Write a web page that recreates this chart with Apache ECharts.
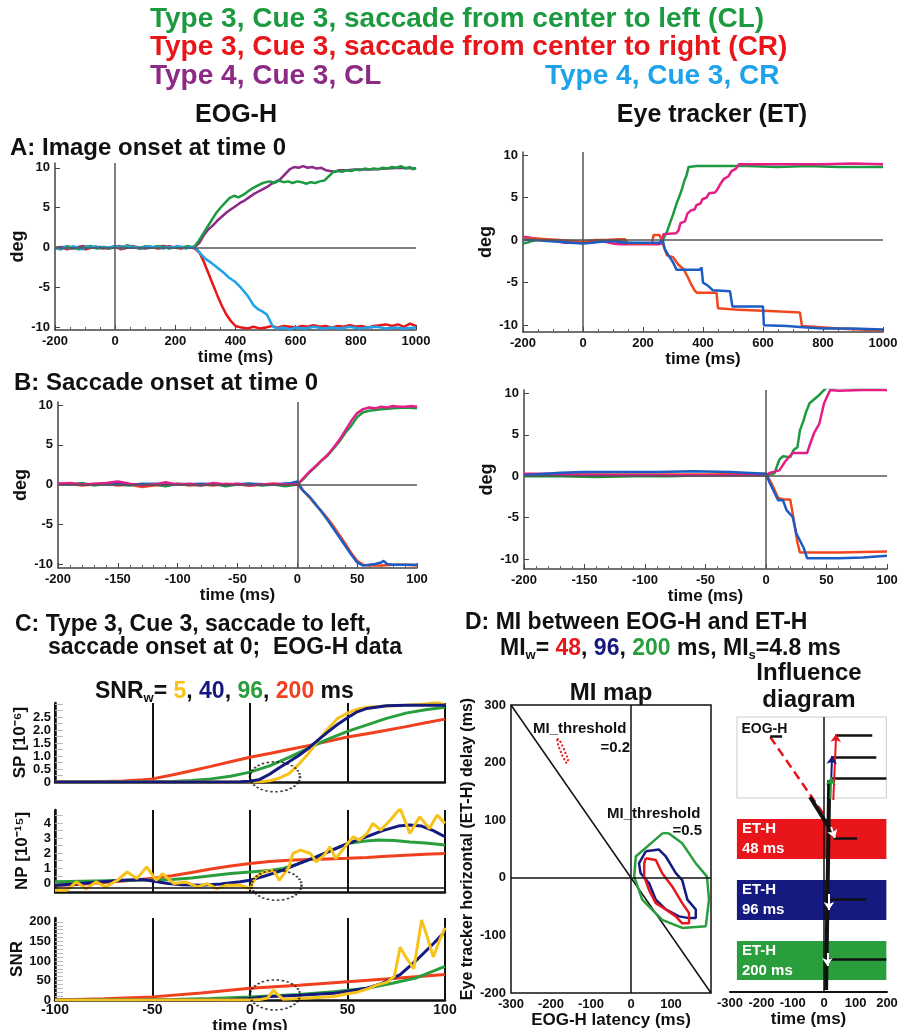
<!DOCTYPE html>
<html lang="en">
<head>
<meta charset="UTF-8">
<title>EOG-H vs eye tracker</title>
<script src="https://cdn.jsdelivr.net/npm/echarts@6/dist/echarts.min.js"></script>
<style>
  body { margin: 0; background: #fff; }
  #main { width: 909px; height: 1030px; }
</style>
</head>
<body>
<div id="main"></div>
<script>
// ---- A: image onset at time 0, EOG-H (deg) ----
var eogImgGreen = [[-200,0.1],[-180,-0.2],[-160,0.2],[-140,0.0],[-120,-0.2],[-100,0.1],[-80,0.2],[-60,-0.1],[-40,0.1],[-20,-0.1],[0,0.2],[20,0.0],[40,0.3],[60,0.1],[80,-0.1],[100,0.2],[120,0.0],[140,0.2],[160,0.1],[180,-0.1],[200,0.1],[220,0.0],[240,0.2],[255,0.1],[265,0.2],[275,0.7],[290,1.6],[305,2.5],[320,3.4],[335,4.3],[350,5.0],[365,5.6],[380,6.2],[395,6.5],[410,6.3],[425,6.6],[440,7.0],[455,7.4],[470,7.7],[485,8.0],[500,8.2],[515,8.3],[530,8.1],[545,8.4],[560,8.2],[575,8.3],[590,8.1],[605,8.3],[620,8.2],[635,8.0],[650,8.2],[665,8.1],[680,8.3],[695,8.4],[712,9.0],[725,9.5],[740,9.6],[755,9.5],[770,9.7],[785,9.6],[800,9.8],[815,9.7],[830,9.9],[845,9.8],[860,9.9],[875,9.8],[890,10.0],[905,9.9],[920,10.1],[935,10.0],[950,10.2],[965,9.9],[980,10.1],[990,9.8],[1000,10.0]];
var eogImgPurple = [[-200,0.0],[-170,0.1],[-140,-0.1],[-110,0.2],[-80,0.0],[-50,0.1],[-20,-0.1],[10,0.2],[40,0.0],[70,0.1],[100,-0.1],[130,0.1],[160,0.2],[190,0.0],[220,0.1],[250,0.0],[265,0.1],[280,0.6],[295,1.6],[310,2.3],[325,2.8],[340,3.4],[355,3.9],[370,4.4],[385,4.8],[400,5.2],[415,5.6],[430,5.9],[445,6.3],[460,6.7],[475,7.0],[490,7.3],[505,7.6],[520,8.0],[535,8.3],[550,8.6],[565,9.2],[580,9.8],[595,10.1],[610,10.0],[625,10.2],[640,10.0],[655,10.1],[670,9.9],[685,10.0],[700,9.7],[715,9.6],[730,9.5],[745,9.7],[770,9.7],[800,9.8],[850,9.8],[900,9.9],[950,10.0],[1000,9.9]];
var eogImgRed = [[-200,-0.1],[-180,0.1],[-160,-0.2],[-140,0.0],[-120,0.1],[-100,-0.2],[-80,0.0],[-60,0.1],[-40,-0.1],[-20,0.0],[0,0.1],[20,-0.2],[40,0.0],[60,0.2],[80,-0.1],[100,0.0],[120,0.1],[140,-0.1],[160,0.0],[180,0.2],[200,0.0],[220,-0.1],[240,0.1],[255,0.0],[265,-0.1],[280,-0.6],[295,-1.8],[310,-3.2],[325,-4.6],[340,-6.0],[355,-7.3],[370,-8.4],[385,-9.2],[400,-9.8],[420,-10.0],[440,-10.1],[460,-9.9],[480,-10.1],[500,-10.0],[520,-9.8],[540,-10.0],[560,-9.8],[580,-9.9],[600,-10.0],[620,-9.8],[640,-9.9],[660,-9.7],[680,-9.9],[700,-9.8],[720,-10.0],[740,-9.8],[760,-9.9],[780,-9.7],[800,-9.9],[820,-9.8],[840,-10.0],[860,-9.8],[880,-9.7],[900,-9.6],[920,-9.8],[940,-9.6],[960,-9.9],[980,-9.5],[1000,-9.8]];
var eogImgCyan = [[-200,0.0],[-185,-0.2],[-170,0.1],[-155,-0.1],[-140,0.2],[-125,0.0],[-110,-0.2],[-95,0.1],[-80,0.0],[-65,0.2],[-50,-0.1],[-35,0.1],[-20,0.0],[-5,0.2],[10,0.1],[25,-0.1],[40,0.2],[55,0.0],[70,0.1],[85,-0.1],[100,0.1],[115,0.2],[130,0.0],[145,0.1],[160,-0.1],[175,0.1],[190,0.0],[205,0.2],[220,0.1],[235,-0.1],[250,0.1],[262,0.0],[272,-0.2],[285,-0.8],[300,-1.4],[320,-1.9],[340,-2.5],[360,-3.1],[380,-3.8],[400,-4.3],[420,-5.1],[440,-6.0],[460,-7.2],[475,-7.7],[490,-8.0],[505,-8.4],[515,-9.2],[525,-9.9],[540,-10.1],[560,-10.0],[580,-10.2],[600,-10.0],[630,-10.1],[660,-9.9],[690,-10.1],[720,-10.0],[750,-10.1],[780,-9.9],[810,-10.1],[840,-10.0],[870,-9.9],[900,-10.1],[930,-10.0],[960,-10.1],[1000,-10.0]];

// ---- A: image onset at time 0, eye tracker (deg) ----
var etImgGreen = [[-200,-0.4],[-185,-0.3],[-170,-0.1],[-150,0.0],[-120,0.0],[-90,-0.1],[-60,-0.2],[-30,-0.2],[0,-0.3],[30,-0.2],[60,-0.1],[90,0.0],[120,-0.1],[150,-0.3],[180,-0.4],[210,-0.4],[240,-0.4],[262,-0.3],[270,0.3],[280,1.0],[290,2.0],[300,3.0],[313,4.4],[322,5.2],[330,6.0],[338,7.0],[345,7.6],[352,8.6],[380,8.7],[450,8.7],[550,8.7],[650,8.6],[750,8.7],[850,8.6],[950,8.6],[1000,8.6]];
var etImgPink = [[-200,0.4],[-180,0.3],[-160,0.2],[-140,0.1],[-120,0.0],[-100,-0.1],[-80,-0.2],[-60,-0.3],[-40,-0.3],[-20,-0.3],[0,-0.3],[25,-0.2],[50,-0.2],[75,-0.2],[100,-0.4],[125,-0.5],[150,-0.5],[200,-0.5],[250,-0.5],[262,-0.4],[268,0.7],[310,0.8],[318,1.1],[325,2.0],[340,2.2],[348,3.1],[360,3.5],[372,3.6],[378,4.1],[392,4.3],[398,4.8],[412,5.0],[420,5.5],[440,5.6],[447,5.9],[458,6.6],[470,7.2],[485,7.5],[495,8.1],[510,8.4],[520,8.9],[600,8.9],[700,8.9],[800,8.9],[900,9.0],[1000,8.9]];
var etImgRed = [[-200,0.2],[-160,0.2],[-120,0.1],[-80,0.0],[-40,-0.1],[0,-0.2],[40,0.0],[80,0.0],[120,0.1],[140,0.1],[148,-0.4],[200,-0.4],[230,-0.4],[235,0.6],[255,0.6],[262,0.0],[272,-1.0],[280,-1.8],[300,-2.0],[318,-2.9],[335,-3.4],[350,-4.4],[362,-5.3],[372,-5.9],[380,-6.2],[445,-6.2],[450,-8.0],[520,-8.2],[600,-8.3],[660,-8.4],[723,-8.5],[730,-10.1],[780,-10.2],[850,-10.4],[920,-10.5],[1000,-10.6]];
var etImgBlue = [[-200,0.0],[-160,0.0],[-120,-0.1],[-80,-0.2],[-40,-0.3],[0,-0.4],[30,-0.3],[60,-0.2],[100,-0.1],[140,-0.3],[180,-0.3],[220,-0.3],[255,-0.3],[266,0.0],[272,-1.0],[285,-1.8],[300,-2.6],[312,-3.5],[390,-3.5],[395,-3.2],[400,-5.0],[418,-5.4],[433,-5.9],[490,-6.0],[498,-7.8],[600,-7.8],[603,-10.0],[680,-10.1],[723,-10.2],[760,-10.3],[800,-10.4],[900,-10.4],[1000,-10.5]];

// ---- B: saccade onset at time 0, EOG-H (deg) ----
var eogSacGreen = [[-200,0.1],[-190,0.0],[-180,0.2],[-170,-0.1],[-160,0.1],[-150,0.0],[-140,-0.1],[-130,0.1],[-120,0.0],[-110,-0.2],[-100,0.1],[-90,0.0],[-80,-0.1],[-70,0.1],[-60,-0.2],[-50,0.0],[-40,0.1],[-30,-0.1],[-20,0.0],[-10,-0.2],[0,0.0],[5,0.7],[10,1.5],[15,2.2],[20,3.0],[25,3.6],[30,4.5],[35,5.4],[40,6.5],[45,7.4],[50,8.5],[55,9.1],[60,9.3],[65,9.4],[70,9.5],[80,9.6],[90,9.7],[100,9.6]];
var eogSacRed = [[-200,0.0],[-190,0.1],[-180,-0.1],[-170,0.0],[-160,0.1],[-150,-0.1],[-140,0.0],[-130,-0.3],[-120,-0.1],[-110,0.0],[-100,0.1],[-90,-0.1],[-80,0.0],[-70,-0.1],[-60,0.1],[-50,0.0],[-40,-0.1],[-30,0.0],[-20,0.1],[-10,0.0],[0,0.0],[5,-0.8],[10,-1.6],[15,-2.5],[20,-3.3],[25,-4.2],[30,-5.2],[35,-6.3],[40,-7.4],[45,-8.6],[50,-9.6],[55,-10.1],[60,-10.2],[70,-10.2],[80,-10.1],[90,-10.1],[100,-10.2]];
var eogSacBlue = [[-200,0.1],[-180,0.0],[-160,0.1],[-140,0.0],[-120,0.1],[-100,0.0],[-80,0.1],[-60,0.0],[-40,0.1],[-20,0.0],[-5,0.2],[0,0.4],[5,-0.8],[10,-1.5],[15,-2.4],[20,-3.4],[25,-4.4],[30,-5.5],[35,-6.6],[40,-7.7],[45,-8.8],[50,-9.8],[55,-10.2],[60,-10.1],[65,-10.0],[70,-9.8],[72,-9.6],[75,-10.0],[80,-10.1],[90,-10.1],[100,-10.1]];
var eogSacPink = [[-200,0.1],[-190,0.2],[-180,0.0],[-170,0.1],[-160,0.2],[-150,0.4],[-140,0.1],[-130,-0.1],[-120,0.0],[-110,0.3],[-100,0.0],[-90,0.1],[-80,-0.1],[-70,0.2],[-60,0.0],[-50,0.1],[-40,-0.1],[-30,0.0],[-20,0.1],[-10,0.0],[0,0.0],[5,0.8],[10,1.6],[15,2.3],[20,3.0],[25,3.7],[30,4.6],[35,5.6],[40,6.8],[45,8.0],[50,9.0],[55,9.5],[60,9.7],[65,9.6],[70,9.8],[75,9.7],[80,9.9],[85,9.8],[90,9.8],[95,9.9],[100,9.8]];

// ---- B: saccade onset at time 0, eye tracker (deg) ----
var etSacGreen = [[-200,0.0],[-170,0.0],[-140,-0.1],[-110,0.0],[-80,0.0],[-50,0.1],[-20,0.1],[0,0.1],[7,0.35],[11,2.0],[14,2.4],[20,2.3],[23,3.2],[26,3.5],[28,5.5],[31,6.7],[33,7.7],[36,8.8],[44,9.8],[50,10.7],[70,10.7],[85,10.6],[100,10.4]];
var etSacPink = [[-200,0.3],[-180,0.3],[-160,0.2],[-130,0.1],[-100,0.1],[-70,0.1],[-40,0.1],[-10,0.1],[0,0.1],[3,0.4],[11,0.7],[16,1.8],[22,2.8],[34,2.8],[36,3.7],[40,5.3],[44,6.3],[48,8.8],[53,10.4],[60,10.3],[80,10.4],[100,10.4]];
var etSacRed = [[-200,0.2],[-150,0.2],[-100,0.2],[-50,0.2],[0,0.3],[5,-1.0],[10,-2.6],[14,-2.8],[20,-2.8],[23,-5.3],[26,-8.0],[28,-9.2],[60,-9.2],[100,-9.1]];
var etSacBlue = [[-200,0.1],[-170,0.4],[-150,0.5],[-120,0.5],[-90,0.5],[-60,0.6],[-30,0.5],[0,0.3],[3,-0.8],[10,-2.9],[14,-2.9],[17,-4.1],[22,-4.9],[25,-6.9],[31,-8.6],[34,-9.9],[60,-9.9],[80,-9.8],[100,-9.6]];

// ---- C: SP [1e-6], NP [1e-15], SNR for window 5, 40, 96, 200 ms ----
var sp5 = [[-100,0],[-50,0],[-20,0],[0,0],[5,0.01],[10,0.05],[15,0.15],[20,0.32],[25,0.68],[30,1.1],[35,1.6],[40,2.05],[45,2.45],[50,2.65],[55,2.8],[60,2.88],[70,2.92],[80,2.95],[90,3.0],[96,3.08],[100,2.96]];
var sp40 = [[-100,0],[-50,0],[-20,0],[-5,0.01],[0,0.03],[5,0.1],[10,0.3],[15,0.55],[20,0.78],[25,1.02],[30,1.3],[35,1.62],[40,1.93],[45,2.22],[50,2.47],[55,2.7],[60,2.83],[70,2.93],[80,2.95],[100,2.95]];
var sp96 = [[-100,0],[-60,0],[-40,0.02],[-30,0.06],[-20,0.12],[-10,0.22],[0,0.38],[10,0.62],[20,0.95],[30,1.3],[40,1.65],[50,1.95],[60,2.2],[70,2.45],[80,2.65],[90,2.78],[100,2.88]];
var sp200 = [[-100,0],[-80,0.01],[-65,0.04],[-55,0.09],[-50,0.12],[-40,0.27],[-30,0.43],[-20,0.6],[-10,0.78],[0,0.95],[10,1.1],[20,1.25],[30,1.4],[40,1.57],[50,1.73],[60,1.86],[70,1.99],[80,2.13],[90,2.28],[100,2.42]];

var np5 = [[-100,-0.47],[-94,-0.47],[-89,0.09],[-84,-0.36],[-79,0.09],[-74,-0.24],[-68,0.2],[-63,0.75],[-58,0.31],[-53,1.09],[-48,0.2],[-45,0.64],[-39,-0.02],[-33,0.09],[-27,-0.24],[-22,-0.02],[-17,-0.36],[-12,-0.13],[-5,-0.13],[0,-0.36],[3,0.42],[7,0.75],[12,0.87],[15,0.2],[20,1.09],[22,1.98],[26,2.2],[31,1.98],[34,1.42],[38,1.87],[41,2.42],[44,1.64],[50,2.64],[53,3.09],[56,2.87],[60,3.31],[63,3.98],[67,3.53],[72,4.2],[77,4.98],[82,3.31],[87,4.42],[92,3.64],[96,4.53],[100,3.98]];
var np40 = [[-100,-0.13],[-90,-0.05],[-77,0.09],[-65,0.2],[-55,0.25],[-50,0.15],[-42,-0.02],[-35,-0.1],[-25,-0.13],[-15,-0.05],[-5,0.1],[0,0.2],[8,0.5],[17,0.87],[25,1.3],[34,1.76],[42,2.2],[50,2.64],[60,3.1],[68,3.5],[76,3.8],[82,3.87],[88,3.8],[94,3.5],[100,3.09]];
var np96 = [[-100,0.1],[-80,0.15],[-60,0.2],[-50,0.22],[-40,0.25],[-30,0.35],[-20,0.5],[-10,0.65],[0,0.75],[10,0.85],[17,0.98],[25,1.3],[34,1.76],[42,2.2],[50,2.64],[58,2.8],[66,2.88],[74,2.85],[82,2.75],[90,2.68],[100,2.55]];
var np200 = [[-100,-0.15],[-90,-0.1],[-80,0],[-70,0.1],[-60,0.2],[-50,0.33],[-40,0.5],[-30,0.72],[-20,0.95],[-10,1.15],[0,1.32],[10,1.45],[20,1.53],[30,1.58],[40,1.62],[50,1.66],[60,1.72],[70,1.79],[80,1.86],[90,1.93],[100,1.98]];

var snr5 = [[-100,0],[-50,0],[0,0],[5,1],[9,5],[12,25],[14,15],[17,2],[22,3],[30,5],[43,9],[50,16],[55,20],[60,28],[65,38],[70,45],[74,60],[77,135],[80,109],[84,80],[88,205],[91,160],[94,110],[97,150],[100,185]];
var snr40 = [[-100,0],[-20,0],[-10,1],[0,4],[8,8],[25,12],[43,17],[60,30],[68,43],[77,65],[85,100],[94,144],[100,175]];
var snr96 = [[-100,0],[-60,0],[-40,1],[-20,4],[0,8],[25,14],[43,21],[60,30],[73,43],[85,56],[100,86]];
var snr200 = [[-100,0],[-75,3],[-50,8],[-25,18],[0,30],[25,38],[50,47],[75,56],[100,65]];

// dotted ellipses marking the saccade onset [time, value]
var spMark = [[12.8, 0.2]];
var npMark = [[13.6, -0.13]];
var snrMark = [[12.8, 13]];

// ---- D: MI map contours, [EOG-H latency, ET-H delay] in ms ----
var miW48 = [[37,34],[62,31],[78,8],[103,-15],[128,-44],[145,-61],[145,-79],[128,-79],[112,-67],[87,-55],[62,-44],[45,-21],[33,2],[33,25],[37,34]];
var miW96 = [[37,46],[70,49],[87,37],[112,8],[128,-4],[141,-38],[162,-55],[162,-70],[145,-70],[120,-67],[87,-55],[62,-38],[45,-9],[24,8],[20,25],[37,46]];
var miW200 = [[80,78],[12,37],[8,2],[28,-38],[78,-73],[128,-87],[187,-84],[195,-38],[190,2],[162,25],[128,60],[95,77],[80,78]];
var miW48Low = [[-185,242],[-178,238],[-168,224],[-157,205],[-161,199],[-171,211],[-182,230],[-185,242]];
var miDiag = [[-300,300],[200,-200]];

// ---- D: influence diagram (time ms, row position from top) ----
var infSignals = [[[38,18],[153,18]],[[25,40],[166,40]],[[25,61],[198,61]],[[29,121],[105,121]],[[19,182],[134,182]],[[16,242],[198,242]],[[-172,19],[-134,19]]];
var infRise = [[[29,83],[38,17]],[[22,66],[25,39]],[[20,82],[22,60]]];
var infEog = [[-172,20],[0,98]];
var infBar = [[[16,63],[6,273]],[[-45,80],[30,118]]];
var infHeads = [[[22,110],[34,121]],[[15,177],[15,193]],[[10,236],[10,249]]];
var infFrame = [[-278,0],[198,81]];
var infRows = [[102,142],[163,203],[224,263]];
var infRowText = ['ET-H\n48 ms','ET-H\n96 ms','ET-H\n200 ms'];

// tick labels
var degTicks = [-10,-5,0,5,10];
var spTicks = [0,0.5,1.0,1.5,2.0,2.5];
var npTicks = [0,1,2,3,4];
var snrTicks = [0,50,100,150,200];
var miXTicks = [-300,-200,-100,0,100];
var miYTicks = [-200,-100,0,100,200,300];
var infXTicks = [-300,-200,-100,0,100,200];

var FONT = '"Liberation Sans", Arial, sans-serif';
var cGreen = '#1c9a40', cRed = '#e8161a', cPurple = '#8c2a85', cCyan = '#1ea2ea';
var cPink = '#e41e86', cOrange = '#f2461e', cBlue = '#1c5cc4';
var cYellow = '#f7c31a', cNavy = '#141a80', cGreen2 = '#2a9e3c', cRed2 = '#f0401e';

function plain(v) { return String(v); }
function lst(n, s) { var a = []; for (var v = 0; v <= n; v += s) a.push(+v.toFixed(2)); return a; }

function ttl(text, left, top, size, color, align, rich) {
    var t = { text: text, left: left, top: top, padding: 0, itemGap: 0,
        textStyle: { fontFamily: FONT, fontWeight: 'bold', fontSize: size, color: color || '#111' } };
    if (align) t.textAlign = align;
    if (rich) t.textStyle.rich = rich;
    return t;
}

function xAx(i, min, max, interval, opts) {
    var a = {
        type: 'value', gridIndex: i, min: min, max: max, interval: interval,
        axisLine: { show: true, onZero: false, lineStyle: { color: '#444', width: 1.5 } },
        axisTick: { show: true, inside: true, length: 5, lineStyle: { color: '#444' } },
        minorTick: { show: true, splitNumber: 4, length: 3, lineStyle: { color: '#666' } },
        splitLine: { show: false },
        axisLabel: { fontFamily: FONT, fontWeight: 'bold', fontSize: 13, color: '#111', margin: 5, formatter: plain },
        name: 'time (ms)', nameLocation: 'middle', nameGap: 16,
        nameTextStyle: { fontFamily: FONT, fontWeight: 'bold', fontSize: 17, color: '#111' }
    };
    return Object.assign(a, opts || {});
}

function yAx(i, min, max, ticks, name, opts) {
    var a = {
        type: 'value', gridIndex: i, min: min, max: max,
        axisLine: { show: true, onZero: false, lineStyle: { color: '#444', width: 1.5 } },
        axisTick: { show: true, inside: true, length: 5, customValues: ticks, lineStyle: { color: '#444' } },
        splitLine: { show: false },
        axisLabel: { customValues: ticks, fontFamily: FONT, fontWeight: 'bold', fontSize: 13, color: '#111', margin: 5, formatter: plain },
        name: name, nameLocation: 'middle', nameRotate: 90, nameGap: 26,
        nameTextStyle: { fontFamily: FONT, fontWeight: 'bold', fontSize: 18, color: '#111' }
    };
    return Object.assign(a, opts || {});
}

function ln(i, data, color, width, extra) {
    var s = { type: 'line', xAxisIndex: i, yAxisIndex: i, data: data, showSymbol: false, symbol: 'none',
        lineStyle: { color: color, width: width || 2.5 }, itemStyle: { color: color }, silent: true, animation: false };
    return Object.assign(s, extra || {});
}

function refLines(xs, ys, color, width) {
    var d = [];
    xs.forEach(function (v) { d.push({ xAxis: v }); });
    ys.forEach(function (v) { d.push({ yAxis: v }); });
    return { silent: true, symbol: 'none', label: { show: false },
        lineStyle: { color: color, width: width, type: 'solid' }, data: d, animation: false };
}

function mark(i, data) {
    return { type: 'scatter', xAxisIndex: i, yAxisIndex: i, data: data, symbol: 'circle', symbolSize: [50, 30],
        itemStyle: { color: 'rgba(0,0,0,0)', borderColor: '#111', borderWidth: 2, borderType: 'dotted' },
        silent: true, z: 5, animation: false };
}

var grids = [
    { left: 55, top: 163, width: 361, height: 167 },
    { left: 523, top: 152, width: 360, height: 180 },
    { left: 58, top: 402, width: 359, height: 166 },
    { left: 524, top: 390, width: 363, height: 179 },
    { left: 55, top: 703, width: 390, height: 79 },
    { left: 55, top: 810, width: 390, height: 82 },
    { left: 55, top: 918, width: 390, height: 82 },
    { left: 511, top: 705, width: 200, height: 288, show: true, borderColor: '#111', borderWidth: 1.5 },
    { left: 730, top: 717, width: 157, height: 275 }
].map(function (g) { g.outerBoundsMode = 'none'; return g; });

var cNone = { show: false };
function cX(i, labels) {
    return xAx(i, -100, 100, 50, {
        axisLine: { show: true, onZero: false, lineStyle: { color: '#111', width: 2.5 } },
        axisTick: cNone, minorTick: cNone,
        splitLine: { show: true, lineStyle: { color: '#111', width: 2 } },
        axisLabel: labels ? { fontFamily: FONT, fontWeight: 'bold', fontSize: 14, color: '#111', margin: 3, formatter: plain } : cNone,
        name: labels ? 'time (ms)' : '', nameGap: 13
    });
}
function cY(i, min, max, ticks, minor, name, fmt) {
    return yAx(i, min, max, ticks, name, {
        axisLine: { show: true, onZero: false, lineStyle: { color: '#111', width: 2.5 } },
        axisTick: { show: true, inside: true, length: 8, customValues: minor, lineStyle: { color: '#bbb', width: 1 } },
        axisLabel: { customValues: ticks, fontFamily: FONT, fontWeight: 'bold', fontSize: 13, color: '#111', margin: 4,
            formatter: fmt || plain },
        nameGap: 24, nameTextStyle: { fontFamily: FONT, fontWeight: 'bold', fontSize: 17, color: '#111' }
    });
}

var xAxes = [
    xAx(0, -200, 1000, 200),
    xAx(1, -200, 1000, 200),
    xAx(2, -200, 100, 50, { minorTick: { show: true, splitNumber: 5, length: 3, lineStyle: { color: '#666' } } }),
    xAx(3, -200, 100, 50, { minorTick: { show: true, splitNumber: 5, length: 3, lineStyle: { color: '#666' } } }),
    cX(4, false), cX(5, false), cX(6, true),
    xAx(7, -300, 200, 100, {
        axisLine: { show: false }, axisTick: cNone, minorTick: cNone,
        axisLabel: { customValues: miXTicks, fontFamily: FONT, fontWeight: 'bold', fontSize: 13, color: '#111', margin: 5, formatter: plain },
        name: 'EOG-H latency (ms)', nameGap: 18
    }),
    xAx(8, -300, 200, 100, {
        axisLine: { show: true, onZero: false, lineStyle: { color: '#111', width: 2 } },
        axisTick: cNone, minorTick: cNone,
        axisLabel: { customValues: infXTicks, fontFamily: FONT, fontWeight: 'bold', fontSize: 13, color: '#111', margin: 5, formatter: plain },
        nameGap: 18
    })
];

var yAxes = [
    yAx(0, -10.3, 10.6, degTicks, 'deg'),
    yAx(1, -10.8, 10.35, degTicks, 'deg'),
    yAx(2, -10.5, 10.4, degTicks, 'deg'),
    yAx(3, -11.2, 10.4, degTicks, 'deg'),
    cY(4, 0, 3.04, spTicks, lst(3, 0.25), 'SP [10\u207B\u2076]', function (v) { return v === 0 ? '0' : v.toFixed(1); }),
    cY(5, -0.58, 4.87, npTicks, lst(4.5, 0.5), 'NP [10\u207B\u00B9\u2075]'),
    cY(6, 0, 210, snrTicks, lst(200, 10), 'SNR'),
    yAx(7, -200, 300, miYTicks, 'Eye tracker horizontal (ET-H) delay (ms)', {
        axisLine: { show: false }, axisTick: cNone,
        nameGap: 32, nameTextStyle: { fontFamily: FONT, fontWeight: 'bold', fontSize: 16, color: '#111' }
    }),
    { type: 'value', gridIndex: 8, min: 0, max: 275, inverse: true, show: false }
];

var series = [
    // A left
    ln(0, eogImgRed, cRed, 2.5, { markLine: refLines([0], [0], '#555', 1.5) }),
    ln(0, eogImgPurple, cPurple),
    ln(0, eogImgGreen, cGreen),
    ln(0, eogImgCyan, cCyan),
    // A right
    ln(1, etImgGreen, cGreen, 2.5, { markLine: refLines([0], [0], '#555', 1.5) }),
    ln(1, etImgPink, cPink),
    ln(1, etImgRed, cOrange),
    ln(1, etImgBlue, cBlue),
    // B left
    ln(2, eogSacGreen, cGreen, 2.5, { markLine: refLines([0], [0], '#555', 1.5) }),
    ln(2, eogSacRed, cOrange),
    ln(2, eogSacBlue, cBlue),
    ln(2, eogSacPink, cPink),
    // B right
    ln(3, etSacRed, cOrange, 2.5, { markLine: refLines([0], [0], '#555', 1.5) }),
    ln(3, etSacGreen, cGreen),
    ln(3, etSacPink, cPink),
    ln(3, etSacBlue, cBlue),
    // C: SP
    ln(4, sp200, cRed2, 3), ln(4, sp96, cGreen2, 3), ln(4, sp5, cYellow, 3), ln(4, sp40, cNavy, 3), mark(4, spMark),
    // C: NP
    ln(5, np200, cRed2, 3, { markLine: refLines([], [-0.3], '#111', 1.5) }), ln(5, np96, cGreen2, 3), ln(5, np40, cNavy, 3), ln(5, np5, cYellow, 3), mark(5, npMark),
    // C: SNR
    ln(6, snr200, cRed2, 3), ln(6, snr96, cGreen2, 3), ln(6, snr40, cNavy, 3), ln(6, snr5, cYellow, 3), mark(6, snrMark),
    // D: MI map
    ln(7, miDiag, '#111', 1.5, { markLine: refLines([0], [0], '#111', 1.5) }),
    ln(7, miW200, cGreen2, 2.5), ln(7, miW96, cNavy, 2.5), ln(7, miW48, cRed, 2.5),
    ln(7, miW48Low, cRed, 2, { lineStyle: { color: cRed, width: 2, type: 'dotted' } })
];

// influence diagram
var infColors = [cRed, cNavy, cGreen2];
series.push(ln(8, [], '#111', 1, {
    markArea: {
        silent: true,
        data: [[{ coord: infFrame[0], itemStyle: { color: '#fff', borderColor: '#ccc', borderWidth: 1 },
                  label: { show: true, position: 'insideTopLeft', formatter: 'EOG-H', color: '#111',
                           fontFamily: FONT, fontWeight: 'bold', fontSize: 14, offset: [0, 1] } },
                { coord: infFrame[1] }]].concat(infRows.map(function (r, k) {
            return [{ coord: [-278, r[0]], itemStyle: { color: infColors[k] },
                      label: { show: true, position: 'insideLeft', formatter: infRowText[k], color: '#fff',
                               fontFamily: FONT, fontWeight: 'bold', fontSize: 15, lineHeight: 20 } },
                    { coord: [198, r[1]] }];
        }))
    },
    markLine: refLines([0], [], '#111', 1.5)
}));
function lines(data, color, width, extra) {
    var s = { type: 'lines', coordinateSystem: 'cartesian2d', xAxisIndex: 8, yAxisIndex: 8, silent: true,
        data: data.map(function (c) { return { coords: c }; }), symbol: 'none',
        lineStyle: { color: color, width: width, opacity: 1 }, animation: false, z: 4 };
    return Object.assign(s, extra || {});
}
series.push(lines([infEog], cRed, 2.5, { lineStyle: { color: cRed, width: 2.5, type: [9, 5], opacity: 1 } }));
series.push(lines(infBar, '#111', 4));
series.push(lines(infSignals, '#111', 2.5));
series.push({ type: 'lines', coordinateSystem: 'cartesian2d', xAxisIndex: 8, yAxisIndex: 8, silent: true,
    data: infRise.map(function (c, k) { return { coords: c, lineStyle: { color: infColors[k] } }; }),
    symbol: ['none', 'arrow'], symbolSize: 8, lineStyle: { width: 2, opacity: 1 }, animation: false, z: 5 });
series.push(lines(infHeads, '#fff', 2, { symbol: ['none', 'arrow'], symbolSize: 8, z: 6 }));

var titles = [
    ttl('Type 3, Cue 3, saccade from center to left (CL)', 150, 5, 28, cGreen),
    ttl('Type 3, Cue 3, saccade from center to right (CR)', 150, 33, 28, cRed),
    ttl('Type 4, Cue 3, CL', 150, 62, 28, cPurple),
    ttl('Type 4, Cue 3, CR', 545, 62, 28, cCyan),
    ttl('EOG-H', 236, 103, 25, '#111', 'center'),
    ttl('Eye tracker (ET)', 712, 103, 25, '#111', 'center'),
    ttl('A: Image onset at time 0', 10, 136, 24),
    ttl('B: Saccade onset at time 0', 14, 371, 24),
    ttl('C: Type 3, Cue 3, saccade to left,', 15, 613, 23),
    ttl('saccade onset at 0;  EOG-H data', 48, 636, 23),
    ttl('{k|SNR}{s|w}{k|= }{y|5}{k|, }{b|40}{k|, }{g|96}{k|, }{r|200}{k| ms}', 95, 678, 22, '#111', null, {
        k: { fontFamily: FONT, fontWeight: 'bold', fontSize: 23, color: '#111' },
        s: { fontFamily: FONT, fontWeight: 'bold', fontSize: 13, color: '#111', padding: [14, 0, 0, 0] },
        y: { fontFamily: FONT, fontWeight: 'bold', fontSize: 23, color: cYellow },
        b: { fontFamily: FONT, fontWeight: 'bold', fontSize: 23, color: cNavy },
        g: { fontFamily: FONT, fontWeight: 'bold', fontSize: 23, color: cGreen2 },
        r: { fontFamily: FONT, fontWeight: 'bold', fontSize: 23, color: cRed2 }
    }),
    ttl('D: MI between EOG-H and ET-H', 465, 611, 23),
    ttl('{k|MI}{s|w}{k|= }{r|48}{k|, }{b|96}{k|, }{g|200}{k| ms, MI}{s|s}{k|=4.8 ms}', 500, 635, 23, '#111', null, {
        k: { fontFamily: FONT, fontWeight: 'bold', fontSize: 23, color: '#111' },
        s: { fontFamily: FONT, fontWeight: 'bold', fontSize: 13, color: '#111', padding: [14, 0, 0, 0] },
        r: { fontFamily: FONT, fontWeight: 'bold', fontSize: 23, color: cRed },
        b: { fontFamily: FONT, fontWeight: 'bold', fontSize: 23, color: cNavy },
        g: { fontFamily: FONT, fontWeight: 'bold', fontSize: 23, color: cGreen2 }
    }),
    ttl('MI map', 611, 681, 24, '#111', 'center'),
    ttl('Influence', 809, 661, 24, '#111', 'center'),
    ttl('diagram', 809, 688, 24, '#111', 'center'),
    ttl('MI_threshold', 533, 721, 15),
    ttl('=0.2', 630, 740, 15, '#111', 'right'),
    ttl('MI_threshold', 607, 806, 15),
    ttl('=0.5', 702, 823, 15, '#111', 'right')
];

var chart = echarts.init(document.getElementById('main'));
chart.setOption({
    backgroundColor: '#fff',
    animation: false,
    title: titles,
    grid: grids,
    xAxis: xAxes,
    yAxis: yAxes,
    series: series
});
</script>
</body>
</html>
